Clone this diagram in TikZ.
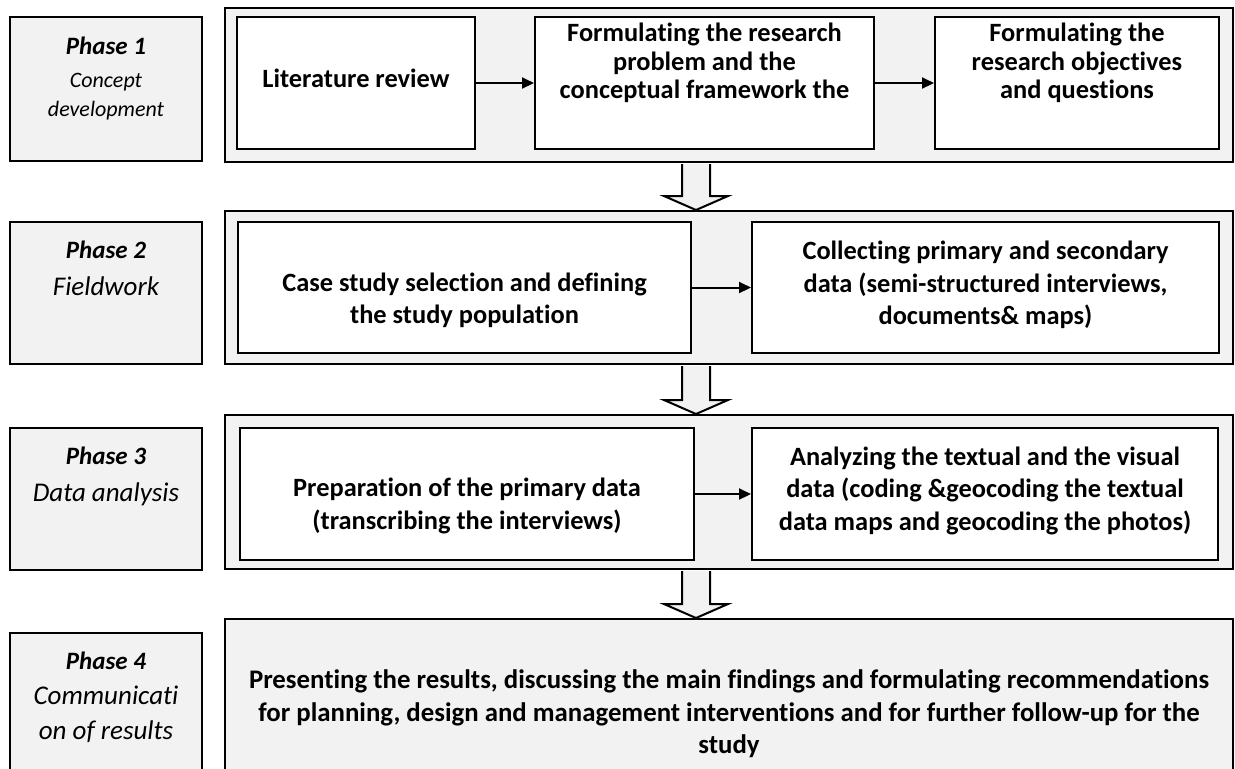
\documentclass[tikz,border=0pt]{standalone}
\usepackage{fontspec}
\setmainfont{Carlito}[Ligatures=NoCommon]
\usetikzlibrary{positioning,calc,arrows.meta}
\definecolor{boxgray}{RGB}{242,242,242}

\begin{document}
\begin{tikzpicture}[x=0.5pt,y=-0.5pt,
        phasebox/.style={draw,line width=1pt,fill=boxgray,minimum width=96pt},
        phasetext/.style={align=center,inner sep=0pt,font=\fontsize{13.5}{18.5}\selectfont\itshape},
        outerbox/.style={draw,line width=1pt,fill=boxgray,minimum width=504pt},
        stepbox/.style={draw,line width=1pt,fill=white},
        steptext/.style={align=center,inner sep=0pt,font=\fontsize{13.2}{16.25}\selectfont\bfseries},
        flow/.style={line width=1pt,-{Triangle[length=6pt,width=5.5pt]}},
        hollow/.style={line width=1pt,fill=boxgray}]
    \clip (0,0) rectangle (1235,768);
    % phase column
    \node[phasebox,minimum height=72pt] (p1) at (106,89) {};
    \node[phasebox,minimum height=71pt] (p2) at (106,293) {};
    \node[phasebox,minimum height=71pt] (p3) at (106,499) {};
    \node[phasebox,minimum height=88.5pt] (p4) at (106,721.5) {};
    \node[phasetext,font=\fontsize{11}{14.5}\selectfont\itshape,below=10.5pt of p1.north] (l1) {\textbf{\fontsize{12.5}{14.5}\selectfont Phase 1}\\[2pt]Concept\\development};
    \node[phasetext,below=10pt of p2.north] (l2) {\textbf{\fontsize{12.5}{18.5}\selectfont Phase 2}\\Fieldwork};
    \node[phasetext,below=10pt of p3.north] (l3) {\textbf{\fontsize{12.5}{18.5}\selectfont Phase 3}\\Data analysis};
    \node[phasetext,font=\fontsize{13.5}{17.5}\selectfont\itshape,below=10pt of p4.north] (l4) {\textbf{\fontsize{12.5}{17.5}\selectfont Phase 4}\\Communicati\\on of results};
    % grey frames
    \node[outerbox,minimum height=77pt] (o1) at (729,85) {};
    \node[outerbox,minimum height=76.5pt] (o2) at (729,287.5) {};
    \node[outerbox,minimum height=77pt] (o3) at (729,492) {};
    \node[outerbox,minimum height=95pt,align=center,font=\fontsize{13.4}{16.25}\selectfont\bfseries] (o4) at (729,714) {Presenting the results, discussing the main findings and formulating recommendations\\for planning, design and management interventions and for further follow-up for the\\study};
    % steps inside the frames
    \node[stepbox,minimum width=119pt,minimum height=66pt] (a1) at (356,83) {};
    \node[stepbox,minimum width=169.5pt,minimum height=66pt] (b1) at (704.5,83) {};
    \node[stepbox,minimum width=142pt,minimum height=66pt] (c1) at (1077,83) {};
    \node[stepbox,minimum width=226.5pt,minimum height=65.5pt] (a2) at (464.5,287.5) {};
    \node[stepbox,minimum width=233.5pt,minimum height=65.5pt] (b2) at (985.5,287.5) {};
    \node[stepbox,minimum width=227pt,minimum height=66pt] (a3) at (467,494) {};
    \node[stepbox,minimum width=233pt,minimum height=66pt] (b3) at (985,494) {};
    \node[steptext] (ta1) at (356,78) {Literature review};
    \node[steptext,font=\fontsize{13.2}{14.25}\selectfont\bfseries] (tb1) at (704.5,63) {Formulating the research\\problem and the\\conceptual framework the};
    \node[steptext,font=\fontsize{13.2}{14.25}\selectfont\bfseries] (tc1) at (1077,63) {Formulating the\\research objectives\\and questions};
    \node[steptext] (ta2) at (464.5,300.5) {Case study selection and defining\\the study population};
    \node[steptext] (tb2) at (985.5,285) {Collecting primary and secondary\\data (semi-structured interviews,\\documents\& maps)};
    \node[steptext] (ta3) at (467,506) {Preparation of the primary data\\(transcribing the interviews)};
    \node[steptext] (tb3) at (985,490.5) {Analyzing the textual and the visual\\data (coding \&geocoding the textual\\data maps and geocoding the photos)};
    \draw[flow] (a1) -- (b1);
    \draw[flow] (b1) -- (c1);
    \draw[flow] (a2) -- (b2);
    \draw[flow] (a3) -- (b3);
    % block arrows between the phases
    \coordinate (ax) at (696,0);
    \foreach \a/\b in {o1/o2,o2/o3,o3/o4}{
        \draw[hollow] ($(\a.south -| ax)+(-14,1)$) -- ($(\b.north -| ax)+(-14,-14)$) -- ($(\b.north -| ax)+(-32,-14)$) -- (\b.north -| ax) -- ($(\b.north -| ax)+(32,-14)$) -- ($(\b.north -| ax)+(14,-14)$) -- ($(\a.south -| ax)+(14,1)$);
    }
\end{tikzpicture}
\end{document}
